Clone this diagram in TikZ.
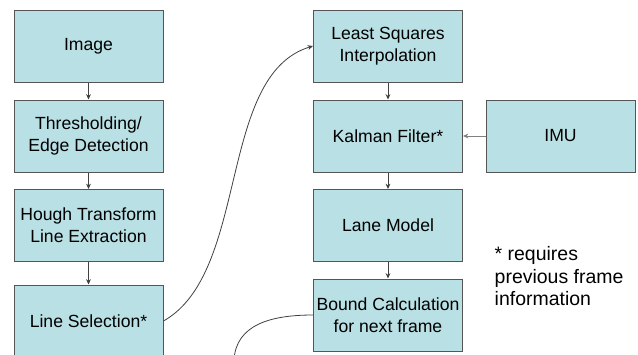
\documentclass[tikz,border=0pt]{standalone}
\usepackage{fontspec}
\setmainfont{Liberation Sans}
\usetikzlibrary{arrows.meta,positioning}
\definecolor{boxfill}{RGB}{185,224,228}
\definecolor{boxline}{RGB}{85,85,85}

\begin{document}
\begin{tikzpicture}[
      x=0.75pt,y=-0.75pt,
      box/.style={draw=boxline,fill=boxfill,line width=0.75pt,
                  minimum width=111.75pt,minimum height=54pt,inner sep=0pt,
                  align=center,font=\fontsize{13.2}{16.5}\selectfont},
      arr/.style={-{Stealth[length=4pt,width=3.6pt]},draw=black!75,line width=0.6pt},
      link/.style={draw=black!75,line width=0.6pt},
      lbl/.style={align=left,font=\fontsize{14.6}{16.9}\selectfont},
    ]
    \useasboundingbox (0,0) rectangle (638,354);

    % ── Left column: image processing ──────────────────────────────────────
    \node[box] (img)     at (88.5,46)  {Image};
    \node[box] (thresh)  at (88.5,136) {Thresholding/\\Edge Detection};
    \node[box] (hough)   at (88.5,225.5) {Hough Transform\\Line Extraction};
    \node[box] (linesel) at (88.5,321) {Line Selection*};

    % ── Right column: lane tracking ────────────────────────────────────────
    \node[box] (lsq)   at (388,46)    {Least Squares\\Interpolation};
    \node[box] (kalman) at (388,136)  {Kalman Filter*};
    \node[box] (lane)  at (388,225.5) {Lane Model};
    \node[box] (bound) at (388,315)   {Bound Calculation\\for next frame};

    % ── Sensor ─────────────────────────────────────────────────────────────
    \node[box] (imu) at (560.5,136) {IMU};

    % ── Left column connections ────────────────────────────────────────────
    \draw[arr] (img)    -- (thresh);
    \draw[arr] (thresh) -- (hough);
    \draw[arr] (hough)  -- (linesel);

    % ── Right column connections ───────────────────────────────────────────
    \draw[arr] (lsq)    -- (kalman);
    \draw[arr] (kalman) -- (lane);
    \draw[arr] (lane)   -- (bound);
    \draw[arr,draw=black!50] (imu) -- (kalman);

    % ── Cross links ────────────────────────────────────────────────────────
    \draw[arr] (linesel.east) .. controls (250,272) and (217,75) .. (lsq.west);
    \coordinate (cut) at (234,360);
    \draw[link] (bound.west) .. controls (270,315) and (236,325) .. (cut);

    % ── Note ───────────────────────────────────────────────────────────────
    \node[lbl,anchor=north west] (note) at (490,242)
          {* requires\\previous frame\\information};

  \end{tikzpicture}
\end{document}
